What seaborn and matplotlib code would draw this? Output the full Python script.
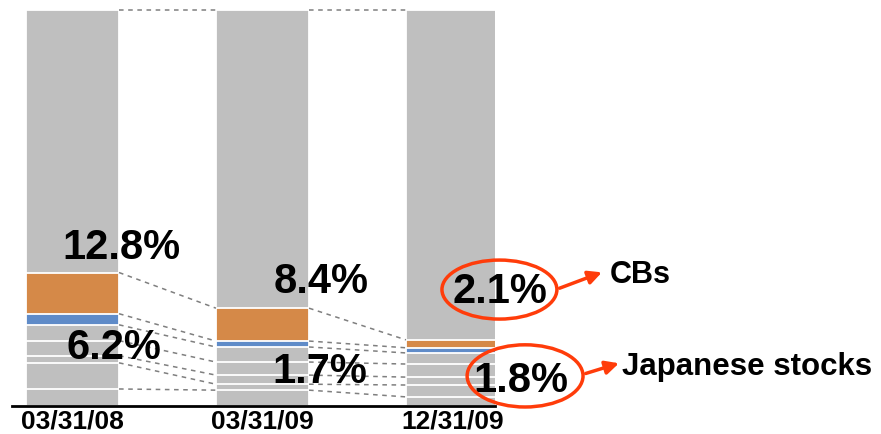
import numpy as np
import pandas as pd
import seaborn as sns
import matplotlib.pyplot as plt
from matplotlib.patches import Ellipse

# data: segment heights (% of bar), bottom to top
dates = ["03/31/08", "03/31/09", "12/31/09"]
other1 = [4.3, 4.0, 2.3]
other2 = [6.6, 1.5, 3.0]
other3 = [1.8, 2.3, 2.0]
other4 = [3.8, 3.3, 3.3]
other5 = [4.0, 3.8, 2.8]
jp_stocks = [2.8, 1.5, 1.3]
cbs = [10.4, 8.3, 2.0]
rest = [66.3, 75.3, 83.3]

cb_labels = ["12.8%", "8.4%", "2.1%"]
jp_labels = ["6.2%", "1.7%", "1.8%"]

gray = "#bfbfbf"
layers = [(other1, gray), (other2, gray), (other3, gray), (other4, gray),
          (other5, gray), (jp_stocks, "#5f8bc8"), (cbs, "#d58948"), (rest, gray)]

sns.set_style("white")
plt.rcParams["font.family"] = ["Liberation Sans", "DejaVu Sans"]
plt.rcParams["text.color"] = "black"
plt.rcParams["xtick.color"] = "black"

fig = plt.figure(figsize=(8.81, 4.35), dpi=100)
ax = fig.add_axes([12 / 881, 28 / 435, 483 / 881, 397 / 435])

cum = np.cumsum([l[0] for l in layers], axis=0)
# draw tallest cumulative first so lower segments sit on top
for k in range(len(layers) - 1, -1, -1):
    df = pd.DataFrame({"date": dates, "v": cum[k]})
    sns.barplot(data=df, x="date", y="v", order=dates, color=layers[k][1],
                saturation=1, width=0.49, edgecolor="white", linewidth=1.3,
                errorbar=None, ax=ax)

# dashed connectors between segment boundaries
w = 0.49
for i in range(len(dates) - 1):
    for k in range(len(layers)):
        ax.plot([i + w / 2, i + 1 - w / 2], [cum[k][i], cum[k][i + 1]],
                ls=(0, (3, 3)), color="#7f7f7f", lw=1.1, zorder=1)

ax.set_xlim(-0.3184, 2.2237)
ax.set_ylim(0, 100.25)
ax.set_xlabel("")
ax.set_ylabel("")
ax.set_yticks([])
for s in ["top", "left", "right"]:
    ax.spines[s].set_visible(False)
ax.spines["bottom"].set_color("black")
ax.spines["bottom"].set_linewidth(2)
ax.tick_params(axis="x", length=0, pad=2, labelcolor="black")
for t in ax.get_xticklabels():
    t.set_fontsize(19)
    t.set_fontweight("bold")

# percent labels
cb_pos = [(0.26, 40.2), (1.308, 31.6), (2.25, 29.0)]
jp_pos = [(0.218, 15.0), (1.303, 8.8), (2.36, 6.5)]
for lab, (x, y) in zip(cb_labels, cb_pos):
    ax.text(x, y, lab, ha="center", va="center", fontsize=30,
            fontweight="bold", clip_on=False, zorder=5)
for lab, (x, y) in zip(jp_labels, jp_pos):
    ax.text(x, y, lab, ha="center", va="center", fontsize=30,
            fontweight="bold", clip_on=False, zorder=5)

red = "#ff3c0a"
for (x, y, ew, eh) in [(2.247, 29.4, 0.605, 14.9), (2.382, 7.6, 0.61, 15.7)]:
    e = Ellipse((x, y), ew, eh, fill=False, edgecolor=red, lw=2.5,
                clip_on=False, zorder=6)
    ax.add_patch(e)

ax.annotate("", xy=(2.80, 34.0), xytext=(2.55, 29.5),
            arrowprops=dict(arrowstyle="-|>", color=red, lw=2.5,
                            mutation_scale=20), annotation_clip=False)
ax.annotate("", xy=(2.89, 11.0), xytext=(2.687, 8.0),
            arrowprops=dict(arrowstyle="-|>", color=red, lw=2.5,
                            mutation_scale=20), annotation_clip=False)
ax.text(2.829, 33.4, "CBs", ha="left", va="center", fontsize=22,
        fontweight="bold", clip_on=False)
ax.text(2.892, 10.1, "Japanese stocks", ha="left", va="center",
        fontsize=22.5, fontweight="bold", clip_on=False)

fig.savefig("out.png", dpi=100)
